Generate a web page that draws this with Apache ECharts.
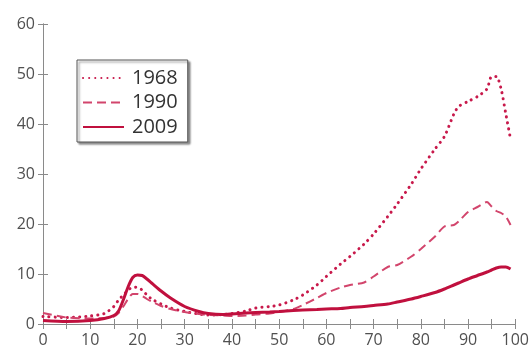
<!DOCTYPE html>
<html>
<head>
<meta charset="utf-8">
<script src="https://cdn.jsdelivr.net/npm/echarts@6/dist/echarts.min.js"></script>
<style>
  html, body { margin: 0; padding: 0; background: #fff; }
  #chart { width: 532px; height: 349px; }
</style>
</head>
<body>
<div id="chart"></div>
<script>
"use strict";

// 年龄（横坐标）
let ages = [0, 5, 10, 13, 15, 16, 17, 18, 19, 20, 21, 22, 23, 25, 27, 30, 33, 35, 38, 40,
    43, 45, 48, 50, 53, 55, 58, 60, 63, 65, 68, 70, 73, 75, 78, 80, 83, 85, 87, 88,
    90, 92, 94, 95, 96, 97, 98, 99];

// 各年份数值
let v1968 = [1.5, 1.3, 1.6, 2.1, 3.5, 4.8, 5.8, 6.7, 7.4, 7.3, 6.8, 5.8, 5.0, 4.0, 3.2, 2.5, 2.0, 1.8, 1.9, 2.1,
    2.6, 3.2, 3.5, 3.8, 4.8, 5.8, 7.8, 9.5, 12, 13.5, 16, 18, 21.5, 24, 28, 31, 35, 37.5, 42, 43.5,
    44.5, 45.5, 47, 49.5, 49.5, 47, 42, 37];
let v1990 = [2.2, 1.3, 1.1, 1.2, 1.5, 2.2, 3.5, 5.0, 6.0, 6.0, 5.6, 5.0, 4.5, 3.6, 3.0, 2.4, 2.0, 1.8, 1.7, 1.6,
    1.7, 1.9, 2.1, 2.4, 3.0, 3.8, 5.2, 6.2, 7.3, 7.8, 8.3, 9.5, 11.4, 11.8, 13.5, 15, 17.5, 19.5, 19.8, 20.5,
    22.4, 23.4, 24.4, 23.5, 22.6, 22.2, 21.5, 19.8];
let v2009 = [0.7, 0.5, 0.7, 1.1, 1.7, 2.6, 4.8, 7.4, 9.3, 9.8, 9.7, 9.0, 8.2, 6.6, 5.2, 3.5, 2.5, 2.1, 1.9, 2.0,
    2.2, 2.3, 2.4, 2.5, 2.7, 2.8, 2.9, 3.0, 3.1, 3.3, 3.5, 3.7, 4.0, 4.4, 5.0, 5.5, 6.3, 7.0, 7.8, 8.2,
    9.0, 9.7, 10.4, 10.8, 11.2, 11.4, 11.4, 11.0];

let years = ['1968', '1990', '2009'];

function pairs(vals) {
    return ages.map((a, i) => [a, vals[i]]);
}

let myChart = echarts.init(document.getElementById('chart'));

let axisGray = '#8a8a8a';
let labelStyle = { color: '#505050', fontSize: 16, fontFamily: 'Open Sans' };

let option = {
    animation: false,
    grid: { left: 43, right: 16, top: 24, bottom: 25 },
    legend: { // 图例
        orient: 'vertical',
        left: 77,
        top: 60,
        data: years,
        itemWidth: 41,
        itemHeight: 10,
        itemGap: 4.5,
        itemStyle: { opacity: 0 }, // 只显示线条
        padding: [8, 10, 5, 5],
        borderColor: '#555',
        borderWidth: 1,
        backgroundColor: '#fff',
        shadowColor: 'rgba(0,0,0,0.45)',
        shadowBlur: 2,
        shadowOffsetX: 2,
        shadowOffsetY: 2,
        textStyle: {
            color: '#333', fontSize: 20, lineHeight: 20, fontFamily: 'Open Sans',
            padding: [0, 0, 0, 3],
        },
    },
    xAxis: [
        {
            type: 'value', min: 0, max: 100, interval: 5,
            axisLine: { show: true, lineStyle: { color: axisGray } },
            axisTick: { inside: true, length: 5, lineStyle: { color: axisGray } },
            axisLabel: Object.assign({
                margin: 8,
                formatter: v => (v % 10 === 0 ? String(v) : ''),
            }, labelStyle),
            splitLine: { show: false },
        },
        {
            type: 'value', min: 0, max: 100, interval: 5, position: 'top',
            axisLine: { show: true, lineStyle: { color: axisGray } },
            axisTick: { inside: true, length: 5, lineStyle: { color: axisGray } },
            axisLabel: { show: false },
            splitLine: { show: false },
        },
    ],
    yAxis: [
        {
            type: 'value', min: 0, max: 60, interval: 10,
            axisLine: { show: true, lineStyle: { color: axisGray } },
            axisTick: { show: true, inside: true, length: 5, lineStyle: { color: axisGray } },
            axisLabel: Object.assign({ margin: 8 }, labelStyle),
            splitLine: { show: false },
        },
        {
            type: 'value', min: 0, max: 60, interval: 10, position: 'right',
            axisLine: { show: true, lineStyle: { color: axisGray } },
            axisTick: { show: true, inside: true, length: 5, lineStyle: { color: axisGray } },
            axisLabel: { show: false },
            splitLine: { show: false },
        },
    ],
    series: [
        {
            name: '1968', type: 'line', symbol: 'none', smooth: 0.25,
            data: pairs(v1968),
            itemStyle: { color: '#c8194b' },
            lineStyle: { color: '#c8194b', width: 3, type: [0.1, 6], cap: 'round' },
        },
        {
            name: '1990', type: 'line', symbol: 'none', smooth: 0.25,
            data: pairs(v1990),
            itemStyle: { color: '#d2456c' },
            lineStyle: { color: '#d2456c', width: 2, type: [9, 5] },
        },
        {
            name: '2009', type: 'line', symbol: 'none', smooth: 0.25,
            data: pairs(v2009),
            itemStyle: { color: '#c0103e' },
            lineStyle: { color: '#c0103e', width: 3 },
        },
    ],
};

myChart.setOption(option);
</script>
</body>
</html>
